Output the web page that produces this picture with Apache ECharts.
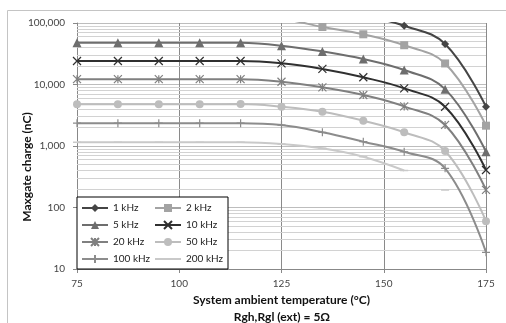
<!DOCTYPE html>
<html>
<head>
<meta charset="utf-8">
<script src="https://cdn.jsdelivr.net/npm/echarts@6/dist/echarts.min.js"></script>
<style>
html,body{margin:0;padding:0;background:#fff;}
#chart{width:506px;height:323px;}
</style>
</head>
<body>
<div id="chart"></div>
<script>
// Data (temperature in °C, charge in nC)
const temps = [75, 85, 95, 105, 115, 125, 135, 145, 155, 165, 175];
const seriesNames = ['1 kHz', '2 kHz', '5 kHz', '10 kHz', '20 kHz', '50 kHz', '100 kHz', '200 kHz'];
const q1k   = [240000, 240000, 240000, 240000, 240000, 230000, 175000, 132000, 90300, 45600, 4350];
const q2k   = [120000, 120000, 120000, 120000, 120000, 115000, 86000, 65500, 43500, 22000, 2140];
const q5k   = [47900, 47900, 47900, 47900, 47600, 42800, 34500, 26000, 17200, 8400, 807];
const q10k  = [24100, 24100, 24100, 24100, 24100, 22100, 17900, 13100, 8650, 4350, 407];
const q20k  = [12200, 12200, 12200, 12200, 12200, 11100, 9000, 6750, 4400, 2200, 193];
const q50k  = [4780, 4780, 4780, 4780, 4800, 4350, 3610, 2580, 1670, 830, 60];
const q100k = [2350, 2350, 2350, 2350, 2350, 2190, 1670, 1175, 807, 434, 18.7];
const q200k = [1150, 1150, 1150, 1150, 1150, 1080, 917, 670, 400, null, null];
const q200kIsolatedTemp = 165;
const q200kIsolated = 193;
const yMinorLines = [20,30,40,50,60,70,80,90,200,300,400,500,600,700,800,900,2000,3000,4000,5000,6000,7000,8000,9000,20000,30000,40000,50000,60000,70000,80000,90000];

function pairs(vals){ return temps.map((t,i)=>[t, vals[i]]); }
const d200 = pairs(q200k).filter(p=>p[1]!==null);
d200.push([160, null]);
d200.push([q200kIsolatedTemp, q200kIsolated]);

const FONT = 'Lato';
const chart = echarts.init(document.getElementById('chart'), null, {renderer:'canvas'});

function mk(name, data, color, symbol, size, stroke){
  return {
    name: name, type: 'line', data: data, smooth: 0.4,
    showSymbol: true, symbol: symbol, symbolSize: size,
    color: color,
    lineStyle: {color: color, width: 2},
    itemStyle: stroke ? {color: 'rgba(0,0,0,0)', borderColor: color, borderWidth: 1.2} : {color: color},
    emphasis: {disabled: true},
    z: 3, animation: false
  };
}

const xPath = 'path://M0,0L10,10M10,0L0,10';
const starPath = 'path://M0,0L10,10M10,0L0,10M5,0L5,10';
const plusPath = 'path://M5,0L5,10M0,5L10,5';
const dashPath = 'path://M0,0L0,0L0,0ZM0,4L10,4L10,6L0,6ZM10,10L10,10L10,10Z';

const option = {
  animation: false,
  backgroundColor: '#fff',
  textStyle: {fontFamily: FONT},
  grid: {left: 77, right: 20, top: 23, bottom: 54, containLabel: false},
  xAxis: {
    type: 'value', min: 75, max: 175, interval: 25,
    axisLine: {show: true, lineStyle: {color: '#888', width: 1}},
    axisTick: {show: true, inside: false, length: 4, lineStyle: {color: '#888'}},
    axisLabel: {fontFamily: FONT, fontSize: 10, color: '#444', margin: 10},
    splitLine: {show: true, lineStyle: {color: '#8a8a8a', width: 1}},
    name: 'System ambient temperature (°C)', nameLocation: 'middle', nameGap: 24,
    nameTextStyle: {fontFamily: FONT, fontSize: 12, fontWeight: 'bold', color: '#111'}
  },
  yAxis: {
    type: 'log', logBase: 10, min: 10, max: 100000,
    axisLine: {show: true, lineStyle: {color: '#888', width: 1}},
    axisTick: {show: true, inside: false, length: 4, lineStyle: {color: '#888'}},
    axisLabel: {fontFamily: FONT, fontSize: 10, color: '#444', margin: 12,
      formatter: v => String(Math.round(v)).replace(/\B(?=(\d{3})+(?!\d))/g, ',')},
    splitLine: {show: true, lineStyle: {color: '#bdbdbd', width: 1}}
  },
  legend: {
    left: 77, top: 197, orient: 'horizontal', width: 146, z: 20,
    padding: [4, 4, 3, 4], itemGap: 3,
    itemWidth: 26, itemHeight: 10,
    backgroundColor: '#fff', borderColor: '#000', borderWidth: 1, borderRadius: 0,
    textStyle: {fontFamily: FONT, fontSize: 10, color: '#222', width: 38, lineHeight: 14},
    data: seriesNames, selectedMode: false
  },
  graphic: [
    {type: 'rect', shape: {x: 7.5, y: 10.5, width: 520, height: 330}, style: {fill: 'none', stroke: '#c4c4c4', lineWidth: 1}, z: -10, silent: true},
    {type: 'text', x: 27, y: 167, rotation: Math.PI/2, style: {text: 'Maxgate charge (nC)', font: 'bold 12px ' + FONT, fill: '#111', textAlign: 'center', textVerticalAlign: 'middle'}},
    {type: 'text', x: 282, y: 317, style: {text: 'Rgh,Rgl (ext) = 5Ω', font: 'bold 12px ' + FONT, fill: '#111', textAlign: 'center', textVerticalAlign: 'middle'}}
  ],
  series: [
    {
      name: '_grid', type: 'line', data: [], silent: true, z: 1,
      markLine: {silent: true, z: 1, symbol: ['none','none'], label: {show: false}, animation: false,
        lineStyle: {color: '#d2d2d2', width: 1, type: 'solid'},
        emphasis: {disabled: true},
        data: yMinorLines.map(v => ({yAxis: v}))}
    },
    mk('1 kHz', pairs(q1k), '#454545', 'diamond', 8, false),
    mk('2 kHz', pairs(q2k), '#a3a3a3', 'rect', 8, false),
    mk('5 kHz', pairs(q5k), '#6e6e6e', 'triangle', 9, false),
    mk('10 kHz', pairs(q10k), '#303030', xPath, 8, true),
    mk('20 kHz', pairs(q20k), '#808080', starPath, 8, true),
    mk('50 kHz', pairs(q50k), '#bdbdbd', 'circle', 8, false),
    mk('100 kHz', pairs(q100k), '#8c8c8c', plusPath, 8, true),
    mk('200 kHz', d200, '#c9c9c9', dashPath, 8, false)
  ]
};
chart.setOption(option);
</script>
</body>
</html>
